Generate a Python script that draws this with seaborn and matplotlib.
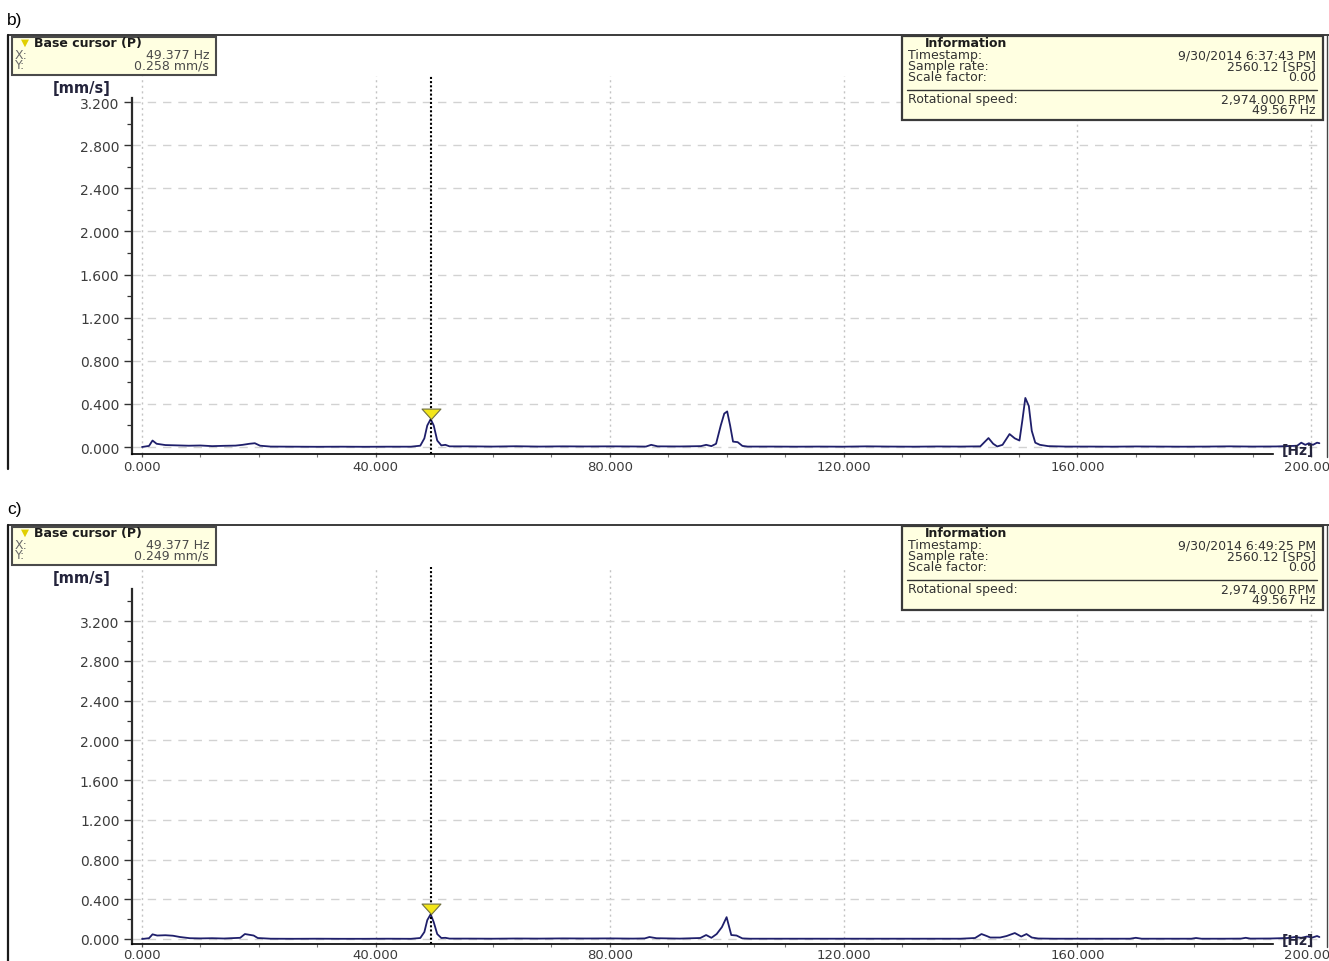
import matplotlib
matplotlib.use("Agg")
import matplotlib.pyplot as plt
import seaborn as sns
from matplotlib.lines import Line2D
from matplotlib.patches import Rectangle
from matplotlib.path import Path
from matplotlib.ticker import FixedLocator, FuncFormatter

# ---------------------------------------------------------------- data
# spectrum b) : frequency [Hz] / velocity amplitude [mm/s]
freq_b = [0.0, 1.2, 1.8, 2.5, 4.0, 6.0, 8.0, 10.0, 12.0, 14.0, 16.0, 17.2, 18.4, 19.3, 20.2, 22.0,
          26.0, 30.0, 34.0, 38.0, 42.0, 46.0, 47.6, 48.3, 48.8, 49.377, 49.9, 50.5, 51.2, 51.9, 52.6,
          56.0, 60.0, 64.0, 68.0, 72.0, 76.0, 80.0, 84.0, 86.2, 87.1, 88.2, 92.0, 95.6, 96.5, 97.4,
          98.2, 99.0, 99.6, 100.1, 100.6, 101.1, 101.9, 102.7, 103.6,
          108.0, 112.0, 116.0, 120.0, 124.0, 128.0, 132.0, 136.0, 140.0, 143.4, 144.8, 145.6, 146.3,
          147.2, 148.4, 149.3, 150.1, 150.6, 151.1, 151.7, 152.2, 152.8, 153.6, 155.0,
          158.0, 162.0, 166.0, 170.0, 174.0, 178.0, 182.0, 186.0, 190.0, 194.0, 196.8, 197.6, 198.3,
          199.0, 199.6, 200.3, 201.0, 201.4]
amp_b = [0.0, 0.01, 0.06, 0.03, 0.018, 0.015, 0.012, 0.014, 0.008, 0.011, 0.013, 0.02, 0.03, 0.035, 0.012, 0.004,
         0.003, 0.002, 0.003, 0.002, 0.003, 0.003, 0.012, 0.08, 0.2, 0.258, 0.2, 0.06, 0.015, 0.02, 0.006,
         0.006, 0.004, 0.007, 0.004, 0.006, 0.005, 0.006, 0.005, 0.004, 0.02, 0.006, 0.005, 0.008, 0.02, 0.008,
         0.03, 0.2, 0.31, 0.33, 0.2, 0.05, 0.045, 0.01, 0.004,
         0.004, 0.003, 0.004, 0.003, 0.006, 0.004, 0.003, 0.005, 0.004, 0.006, 0.083, 0.03, 0.005,
         0.02, 0.12, 0.08, 0.06, 0.25, 0.455, 0.38, 0.15, 0.04, 0.02, 0.008,
         0.004, 0.004, 0.003, 0.005, 0.004, 0.003, 0.004, 0.006, 0.004, 0.005, 0.01, 0.012, 0.04,
         0.02, 0.035, 0.02, 0.04, 0.035]

# spectrum c)
freq_c = [0.0, 1.2, 1.8, 2.6, 4.0, 5.3, 6.5, 8.2, 10.0, 12.0, 14.0, 16.8, 17.6, 18.4, 19.1, 19.8, 22.0,
          26.0, 30.0, 34.0, 38.0, 42.0, 46.0, 47.6, 48.3, 48.8, 49.377, 49.9, 50.5, 51.2, 51.9, 52.6,
          56.0, 60.0, 64.0, 68.0, 72.0, 76.0, 80.0, 84.0, 86.0, 86.8, 88.0, 92.0, 95.5, 96.5, 97.4,
          98.3, 99.2, 100.0, 100.4, 100.8, 101.7, 102.7, 104.0,
          108.0, 112.0, 116.0, 120.0, 124.0, 128.0, 132.0, 136.0, 140.0, 142.5, 143.6, 144.5, 145.1,
          146.8, 147.9, 149.3, 150.4, 151.3, 152.2, 153.3, 156.0,
          160.0, 165.0, 169.0, 170.0, 171.0, 175.0, 179.5, 180.3, 181.2, 185.0, 188.0, 188.8, 189.6,
          193.0, 196.0, 197.2, 198.3, 199.3, 200.2, 201.0, 201.4]
amp_c = [0.0, 0.008, 0.047, 0.035, 0.038, 0.033, 0.02, 0.008, 0.006, 0.008, 0.005, 0.012, 0.05, 0.042, 0.035, 0.01, 0.003,
         0.002, 0.003, 0.002, 0.002, 0.003, 0.002, 0.01, 0.07, 0.19, 0.249, 0.17, 0.05, 0.01, 0.012, 0.004,
         0.004, 0.003, 0.005, 0.004, 0.006, 0.005, 0.006, 0.004, 0.006, 0.02, 0.008, 0.004, 0.01, 0.04, 0.012,
         0.05, 0.12, 0.22, 0.13, 0.04, 0.035, 0.006, 0.003,
         0.003, 0.003, 0.003, 0.003, 0.003, 0.003, 0.003, 0.003, 0.003, 0.01, 0.05, 0.03, 0.015,
         0.015, 0.03, 0.06, 0.025, 0.05, 0.015, 0.005, 0.003,
         0.003, 0.003, 0.003, 0.012, 0.003, 0.003, 0.003, 0.01, 0.003, 0.003, 0.004, 0.012, 0.004,
         0.005, 0.01, 0.02, 0.012, 0.025, 0.015, 0.03, 0.02]

x_ticks = [0, 40, 80, 120, 160, 200]
x_minor = [10, 20, 30, 50, 60, 70, 90, 100, 110, 130, 140, 150, 170, 180, 190]
y_ticks = [0.0, 0.4, 0.8, 1.2, 1.6, 2.0, 2.4, 2.8, 3.2]
y_minor = [0.2, 0.6, 1.0, 1.4, 1.8, 2.2, 2.6, 3.0]

panel_tags = ["b)", "c)"]
cursor_hz = 49.377
cursor_vals = [0.258, 0.249]
timestamps = ["9/30/2014 6:37:43 PM", "9/30/2014 6:49:25 PM"]
sample_rate = 2560.12
scale_factor = 0.00
speed_rpm = 2974.0
speed_hz = 49.567

# ---------------------------------------------------------------- style
W, H = 1329, 962
sns.set_theme(style="white")
plt.rcParams["font.family"] = ["DejaVu Sans"]

LINE_C = "#1f1f6b"
TXT_C = "#3c3c3c"
BOX_BG = "#ffffe1"
BOX_FS = 9
ROW_PX = 11.0          # row pitch inside the readout boxes

fig = plt.figure(figsize=(W / 100, H / 100), dpi=100)
fig.patch.set_facecolor("white")


def fx(px):
    return px / W


def fy(py):
    return 1 - py / H


def ftext(px, py, s, **kw):
    kw.setdefault("va", "center")
    kw.setdefault("fontsize", BOX_FS)
    kw.setdefault("color", TXT_C)
    fig.text(fx(px), fy(py), s, **kw)


def fcolumn(px, py_first, lines, ha="left", **kw):
    """Several rows as one multi-line text, first row centred on py_first."""
    fs = kw.pop("fontsize", BOX_FS)
    line_h = fs * 100 / 72 * 1.17
    n = len(lines)
    yc = py_first + ROW_PX * (n - 1) / 2
    fig.text(fx(px), fy(yc), "\n".join(lines), ha=ha, va="center", multialignment=ha,
             fontsize=fs, linespacing=ROW_PX / line_h, **kw)


def fline(xs, ys, **kw):
    fig.add_artist(Line2D([fx(v) for v in xs], [fy(v) for v in ys],
                          transform=fig.transFigure, **kw))


def fbox(x0, y0, x1, y1, **kw):
    fig.add_artist(Rectangle((fx(x0), fy(y1)), (x1 - x0) / W, (y1 - y0) / H,
                             transform=fig.transFigure, **kw))


# downward triangle with its tip on the anchor point
tip_marker = Path([(-1.0, 1.1), (1.0, 1.1), (0.0, 0.0), (-1.0, 1.1)],
                  [Path.MOVETO, Path.LINETO, Path.LINETO, Path.CLOSEPOLY])

X0_PX, PX_PER_HZ = 142, 5.846
AX_L, AX_R = 132, 1324

panels = [
    dict(dy=0, y0=448, ppu=107.8, top=77, bot=455, spine_top=99, freq=freq_b, amp=amp_b),
    dict(dy=490, y0=940, ppu=99.3, top=568, bot=945, spine_top=590, freq=freq_c, amp=amp_c),
]

for i, p in enumerate(panels):
    dy = p["dy"]
    ax = fig.add_axes([fx(AX_L), fy(p["bot"]), (AX_R - AX_L) / W, (p["bot"] - p["top"]) / H])
    ax.set_facecolor("white")
    ax.set_xlim((AX_L - X0_PX) / PX_PER_HZ, (AX_R - X0_PX) / PX_PER_HZ)
    ylo = (p["y0"] - p["bot"]) / p["ppu"]
    yhi = (p["y0"] - p["top"]) / p["ppu"]
    ax.set_ylim(ylo, yhi)

    # grid
    for xv in x_ticks:
        ax.axvline(xv, color="#c4c4c4", lw=1.0, ls=(0, (1.5, 2.5)), zorder=1)
    for yv in y_ticks:
        ax.axhline(yv, color="#d2d2d2", lw=1.0, ls=(0, (6, 5)), zorder=1)

    sns.lineplot(x=p["freq"], y=p["amp"], ax=ax, color=LINE_C, linewidth=1.3,
                 zorder=3, legend=False)

    # cursor
    ax.axvline(cursor_hz, color="black", lw=1.5, ls=(0, (1, 1)), zorder=4)
    ax.plot([cursor_hz], [cursor_vals[i]], marker=tip_marker, markersize=15,
            markerfacecolor="#f3e61a", markeredgecolor="#707040", markeredgewidth=0.8,
            ls="none", zorder=5, clip_on=False)

    # axes / ticks
    for s in ("top", "right"):
        ax.spines[s].set_visible(False)
    ymax_spine = (p["y0"] - p["spine_top"]) / p["ppu"]
    ax.spines["left"].set_bounds(ylo, ymax_spine)
    ax.spines["left"].set_color("#2a2a2a")
    ax.spines["left"].set_linewidth(1.6)
    ax.spines["bottom"].set_bounds((AX_L - X0_PX) / PX_PER_HZ, (1273 - X0_PX) / PX_PER_HZ)
    ax.spines["bottom"].set_color("black")
    ax.spines["bottom"].set_linewidth(1.2)

    ax.xaxis.set_major_locator(FixedLocator(x_ticks))
    ax.xaxis.set_minor_locator(FixedLocator(x_minor))
    ax.yaxis.set_major_locator(FixedLocator(y_ticks))
    ym = list(y_minor) + ([3.4] if i == 1 else [])
    ax.yaxis.set_minor_locator(FixedLocator(ym))
    fmt = FuncFormatter(lambda v, pos: f"{v:.3f}")
    ax.xaxis.set_major_formatter(fmt)
    ax.yaxis.set_major_formatter(fmt)
    ax.tick_params(axis="y", which="major", direction="out", length=6, width=1.0,
                   color="#333333", pad=3, labelsize=10, labelcolor=TXT_C, left=True)
    ax.tick_params(axis="y", which="minor", direction="out", length=3.5, width=0.9,
                   color="#333333", left=True)
    ax.tick_params(axis="x", which="major", direction="out", length=2, width=0.9,
                   color="#555555", pad=2 if i == 0 else 1, labelsize=9.5,
                   labelcolor=TXT_C, bottom=True)
    ax.tick_params(axis="x", which="minor", direction="out", length=2, width=0.8,
                   color="#777777", bottom=True)
    for lab in ax.get_xticklabels():
        lab.set_clip_on(False)

    # units
    ftext(82, 89 + dy, "[mm/s]", ha="center", fontweight="bold", fontsize=10.5, color="#24243c")
    ftext(1298, 451 + dy, "[Hz]", ha="center", fontweight="bold", fontsize=10, color="#24243c")

    # panel frame and tag
    ftext(7, 20 + dy, panel_tags[i], ha="left", fontsize=12.5, color="black",
          family=["Liberation Sans", "DejaVu Sans"])
    frame_bot = 470 + dy if i == 0 else 962
    fline([7.5, 7.5], [36 + dy, frame_bot], color="#1a1a1a", lw=1.6)
    fline([7.5, 1329], [36 + dy, 36 + dy], color="#1a1a1a", lw=1.2)
    fline([1327, 1327], [36 + dy, 458 + dy], color="#444444", lw=1.0)

    # cursor readout box
    fbox(12, 38 + dy, 216, 76 + dy, facecolor=BOX_BG, edgecolor="#4a4a4a", lw=1.5, zorder=6)
    ftext(25, 42.5 + dy, "\u25bc", ha="center", fontsize=7.5, color="#e0cf00", zorder=7)
    ftext(34, 43.5 + dy, "Base cursor (P)", ha="left", fontweight="bold", color="#1c1c1c", zorder=7)
    fcolumn(15, 55 + dy, ["X:", "Y:"], ha="left", color="#6a6a6a", zorder=7)
    fcolumn(209, 55 + dy, [f"{cursor_hz:.3f} Hz", f"{cursor_vals[i]:.3f} mm/s"],
            ha="right", color="#4a4a4a", zorder=7)

    # information box
    fbox(902, 37 + dy, 1323, 121 + dy, facecolor=BOX_BG, edgecolor="#3a3a3a", lw=1.6, zorder=6)
    ftext(925, 43.5 + dy, "Information", ha="left", fontweight="bold", color="#1c1c1c", zorder=7)
    fcolumn(908, 55.5 + dy, ["Timestamp:", "Sample rate:", "Scale factor:"],
            ha="left", color="#333333", zorder=7)
    fcolumn(1316, 55.5 + dy, [timestamps[i], f"{sample_rate:.2f} [SPS]", f"{scale_factor:.2f}"],
            ha="right", color="#333333", zorder=7)
    fline([907, 1317], [91 + dy, 91 + dy], color="#333333", lw=1.0, zorder=7)
    ftext(908, 100 + dy, "Rotational speed:", ha="left", color="#333333", zorder=7)
    fcolumn(1316, 100 + dy, [f"{speed_rpm:,.3f} RPM", f"{speed_hz:.3f} Hz"],
            ha="right", color="#333333", zorder=7)

fig.savefig("out.png", dpi=100, facecolor="white")
